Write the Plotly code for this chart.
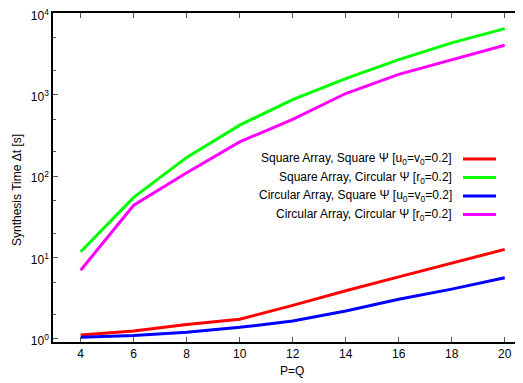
import plotly.graph_objects as go

# ---- data ----
pq = [4, 6, 8, 10, 12, 14, 16, 18, 20]
sq_arr_sq_psi = [1.12, 1.25, 1.51, 1.75, 2.59, 3.92, 5.8, 8.6, 12.6]
sq_arr_circ_psi = [11.8, 54.8, 170, 423, 873, 1580, 2700, 4330, 6490]
circ_arr_sq_psi = [1.05, 1.1, 1.21, 1.39, 1.66, 2.21, 3.07, 4.1, 5.65]
circ_arr_circ_psi = [7.0, 44, 110, 264, 497, 1035, 1780, 2700, 4050]

series_names = [
    "Square Array, Square Ψ [u<sub>0</sub>=v<sub>0</sub>=0.2]",
    "Square Array, Circular Ψ [r<sub>0</sub>=0.2]",
    "Circular Array, Square Ψ [u<sub>0</sub>=v<sub>0</sub>=0.2]",
    "Circular Array, Circular Ψ [r<sub>0</sub>=0.2]",
]
series_values = [sq_arr_sq_psi, sq_arr_circ_psi, circ_arr_sq_psi, circ_arr_circ_psi]
series_colors = ["#ff0000", "#00ff00", "#0000ff", "#ff00ff"]

x_ticks = [4, 6, 8, 10, 12, 14, 16, 18, 20]
y_ticks = [1, 10, 100, 1000, 10000]
y_ticktext = ["10<sup>0</sup>", "10<sup>1</sup>", "10<sup>2</sup>", "10<sup>3</sup>", "10<sup>4</sup>"]
y_minor = [2, 5, 20, 50, 200, 500, 2000, 5000]
x_title = "P=Q"
y_title = "Synthesis Time Δt [s]"

FONT = "Liberation Sans, Arial, sans-serif"
OFF = 8  # page body margin in the browser
# desired plot area in page pixels: left 53, top 13, bottom 342, right 523
W, H = 523 - OFF, 383 - OFF
L, T = 53 - OFF, 13 - OFF
B = (383 - OFF) - (342 - OFF)
R = 0
pw, ph = W - L - R, H - T - B

def px(x):
    return (x - OFF - L) / pw

def py(y):
    return (T + ph - (y - OFF)) / ph

fig = go.Figure()
for name, vals, col in zip(series_names, series_values, series_colors):
    fig.add_trace(go.Scatter(x=pq, y=vals, mode="lines", name=name,
                             line=dict(color=col, width=3), showlegend=False))

# custom legend (text right-aligned, sample line to the right as in gnuplot)
row_y = [159, 177.5, 196, 214.5]
for name, col, yy in zip(series_names, series_colors, row_y):
    fig.add_annotation(xref="paper", yref="paper", x=px(454), y=py(yy), text=name,
                       showarrow=False, xanchor="right", yanchor="middle",
                       font=dict(family=FONT, size=12, color="#000000"))
    fig.add_shape(type="line", xref="paper", yref="paper", x0=px(463), x1=px(496),
                  y0=py(yy), y1=py(yy), line=dict(color=col, width=3))

# axis titles
fig.add_annotation(xref="paper", yref="paper", x=px(292), y=py(371), text=x_title,
                   showarrow=False, xanchor="center", yanchor="middle",
                   font=dict(family=FONT, size=12, color="#000000"))
fig.add_annotation(xref="paper", yref="paper", x=px(17), y=py(190), text=y_title,
                   showarrow=False, xanchor="center", yanchor="middle", textangle=-90,
                   font=dict(family=FONT, size=12, color="#000000"))

fig.update_layout(
    width=W, height=H,
    margin=dict(l=L, r=R, t=T, b=B),
    plot_bgcolor="white", paper_bgcolor="white",
    font=dict(family=FONT, size=12, color="#000000"),
    xaxis=dict(range=[2.955, 20.69], tickvals=x_ticks, ticks="inside", ticklen=5,
               tickcolor="#555555", showline=True, linecolor="#000000", linewidth=1.5,
               mirror="ticks", showgrid=False, zeroline=False, automargin=False),
    yaxis=dict(type="log", range=[-0.037, 4.004], tickvals=y_ticks, ticktext=y_ticktext,
               ticks="inside", ticklen=5, tickcolor="#555555", showline=True,
               linecolor="#000000", linewidth=1.5, mirror=False, showgrid=False,
               zeroline=False, automargin=False, ticklabeloverflow="allow",
               ticklabelshift=2,
               minor=dict(tickvals=y_minor, ticks="inside", ticklen=3, tickcolor="#555555")),
)

fig.write_html("out.html")
